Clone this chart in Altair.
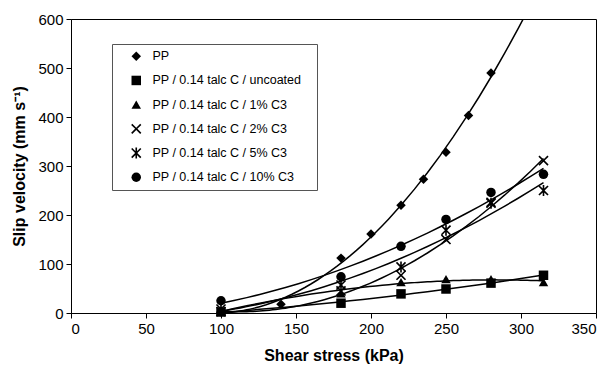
import altair as alt
import pandas as pd
import math

series = [
    "PP",
    "PP / 0.14 talc C / uncoated",
    "PP / 0.14 talc C / 1% C3",
    "PP / 0.14 talc C / 2% C3",
    "PP / 0.14 talc C / 5% C3",
    "PP / 0.14 talc C / 10% C3",
]
pp_x = [100, 140, 180, 200, 220, 235, 250, 265, 280]
pp_y = [2, 18, 112, 161, 220, 273, 328, 403, 490]
x6 = [100, 180, 220, 250, 280, 315]
uncoated_y = [2, 20, 39, 49, 61, 77]
c1_y = [5, 40, 63, 69, 69, 63]
c2_y = [3, 45, 77, 150, 226, 311]
c5_y = [8, 57, 94, 169, 224, 250]
c10_y = [25, 74, 136, 191, 246, 283]

rows = []
for xv, yv in zip(pp_x, pp_y):
    rows.append({"series": series[0], "x": xv, "y": yv})
for s, ys in zip(series[1:], [uncoated_y, c1_y, c2_y, c5_y, c10_y]):
    for xv, yv in zip(x6, ys):
        rows.append({"series": s, "x": xv, "y": yv})
df = pd.DataFrame(rows)


def x_polygon(L=1.35, w=0.17):
    pts = [(-w, -L), (w, -L), (w, -w), (L, -w), (L, w), (w, w),
           (w, L), (-w, L), (-w, w), (-L, w), (-L, -w), (-w, -w)]
    r = 1 / math.sqrt(2)
    out = [((px - py) * r, (px + py) * r) for px, py in pts]
    return "M" + " L".join(f"{a:.3f},{b:.3f}" for a, b in out) + " Z"


x_path = x_polygon()
star_path = x_polygon() + " M-0.17,-1.15 L0.17,-1.15 L0.17,1.15 L-0.17,1.15 Z"
shapes = ["diamond", "square", "triangle-up", x_path, star_path, "circle"]

FONT = "Liberation Sans"

xscale = alt.Scale(domain=[0, 350], nice=False)
yscale = alt.Scale(domain=[0, 600], nice=False)

xaxis = alt.Axis(values=list(range(0, 351, 50)), title="Shear stress (kPa)", grid=False)
yaxis = alt.Axis(values=list(range(0, 601, 100)), title="Slip velocity (mm s\u207b\u00b9)", grid=False)

base = alt.Chart(df)

lines = base.transform_regression(
    "x", "y", groupby=["series"], method="poly", order=2, extent=[100, 315]
).mark_line(color="black", strokeWidth=1.5, clip=True).encode(
    x=alt.X("x:Q", scale=xscale, axis=xaxis),
    y=alt.Y("y:Q", scale=yscale, axis=yaxis),
    detail="series:N",
)

points = base.mark_point(filled=True, color="black", strokeWidth=0, size=90, opacity=1).encode(
    x=alt.X("x:Q", scale=xscale),
    y=alt.Y("y:Q", scale=yscale),
    shape=alt.Shape(
        "series:N",
        scale=alt.Scale(domain=series, range=shapes),
        sort=series,
        legend=alt.Legend(
            title="\u00a0",
            titleOrient="right",
            titleFontSize=1,
            titlePadding=10,
            orient="none",
            legendX=41,
            legendY=25,
            padding=6,
            strokeColor="#555555",
            fillColor="white",
            labelFont=FONT,
            labelFontSize=12.5,
            labelColor="black",
            rowPadding=11.2,
            symbolOffset=12,
            labelOffset=10,
            symbolSize=90,
            symbolFillColor="black",
            symbolStrokeWidth=0,
            symbolOpacity=1,
            labelLimit=400,
        ),
    ),
)

chart = alt.layer(lines, points).properties(
    width=525,
    height=294,
    autosize=alt.AutoSizeParams(type="none"),
    padding={"left": 63, "top": 11, "right": 3, "bottom": 55},
).configure_view(
    stroke="black", strokeWidth=1
).configure_axis(
    labelFont=FONT,
    labelFontSize=15,
    labelColor="black",
    titleFont=FONT,
    titleFontSize=16,
    titleFontWeight="bold",
    titleColor="black",
    domainColor="black",
    tickColor="black",
    tickSize=5,
    labelPadding=3,
).configure_axisX(
    titlePadding=11,
).configure_axisY(
    titlePadding=10,
)

chart.save("out.html", embed_options={"renderer": "svg", "actions": False})
